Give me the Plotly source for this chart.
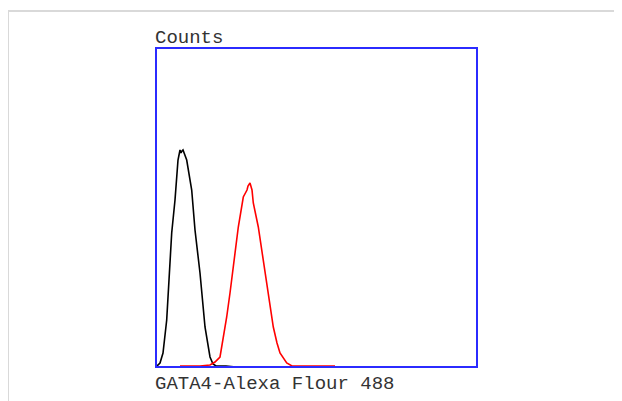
import plotly.graph_objects as go

# Histogram data (fluorescence channel vs counts)
control_x = [0, 1, 4, 7, 10.7, 13, 15.7, 19, 22, 24, 25, 26, 27, 30.7, 33, 35.7, 39, 44, 49, 54, 57, 60, 70, 80, 100]
control_y = [0, 1, 4, 14, 47, 87, 134, 167, 207, 217, 214, 216, 217, 207, 192, 177, 137, 94, 40, 10, 3, 1, 1, 0, 0]

sample_x = [24, 44, 54, 59, 64, 67, 70.7, 74, 77.3, 82.3, 87.3, 91, 92, 94, 96, 97.3, 102.3, 107.3, 112.3, 117.3, 121, 124, 130.7, 136, 160, 179]
sample_y = [1, 1, 2, 5, 10, 27, 50, 74, 100, 140, 170, 177, 181, 184, 177, 164, 140, 107, 70, 40, 24, 14, 4, 1, 1, 1]

x_label = "GATA4-Alexa Flour 488"
y_label = "Counts"

fig = go.Figure()
fig.add_trace(go.Scatter(x=control_x, y=control_y, mode="lines",
                         line=dict(color="black", width=1.6), showlegend=False))
fig.add_trace(go.Scatter(x=sample_x, y=sample_y, mode="lines",
                         line=dict(color="red", width=1.6), showlegend=False))

# The page body has an 8px margin, so lay the figure out 8px smaller/shifted.
OFF = 8
W, H = 622 - OFF, 401 - OFF
L, R, T, B = 156 - OFF, 477 - OFF, 48 - OFF, 367 - OFF
pw, ph = R - L, B - T

def px(x):
    return (x - OFF - L) / pw

def py(y):
    return (B - (y - OFF)) / ph

shapes = [
    # outer light-gray frame lines
    dict(type="line", xref="paper", yref="paper", x0=px(8), x1=px(640), y0=py(11), y1=py(11),
         line=dict(color="#d9d9d9", width=2)),
    dict(type="line", xref="paper", yref="paper", x0=px(8), x1=px(8), y0=py(11), y1=py(420),
         line=dict(color="#d9d9d9", width=2)),
    # blue plot box
    dict(type="rect", xref="paper", yref="paper", x0=0, x1=1, y0=0, y1=1,
         line=dict(color="#2b2bff", width=2)),
]

font = dict(family="Liberation Mono, DejaVu Sans Mono, monospace", size=19, color="#333333")

fig.update_layout(
    width=W, height=H,
    margin=dict(l=L, r=W - R, t=T, b=H - B),
    paper_bgcolor="white", plot_bgcolor="white",
    xaxis=dict(range=[0, pw], visible=False, fixedrange=True),
    yaxis=dict(range=[0, ph], visible=False, fixedrange=True),
    shapes=shapes,
    annotations=[
        dict(text=y_label, xref="paper", yref="paper", x=0, y=1, xanchor="left", yanchor="bottom",
             showarrow=False, font=font, xshift=-3, yshift=-3),
        dict(text=x_label, xref="paper", yref="paper", x=0, y=0, xanchor="left", yanchor="top",
             showarrow=False, font=font, xshift=-3, yshift=-4),
    ],
)

fig.write_html("out.html")
